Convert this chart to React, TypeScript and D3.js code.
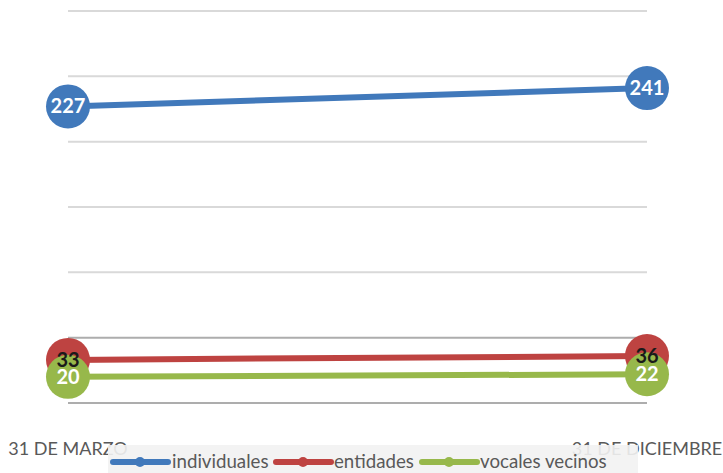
import React from "react";
import * as d3 from "d3";

const categories = ["31 DE MARZO", "31 DE DICIEMBRE"];
const seriesNames = ["individuales", "entidades", "vocales vecinos"];
const individuales = [227, 241];
const entidades = [33, 36];
const vocales = [20, 22];
const yTicks = [0, 50, 100, 150, 200, 250, 300];

const colors = ["#4179bb", "#be4341", "#97b84b"];
const labelColors = ["#ffffff", "#1a1a1a", "#ffffff"];

export default function App() {
  const W = 723, H = 473;
  const x = d3.scalePoint<string>().domain(categories).range([68, 647]);
  const y = d3.scaleLinear().domain([0, 300]).range([403, 11]);
  const series = [individuales, entidades, vocales];
  const line = d3.line<number>().x((_, i) => x(categories[i])!).y((d) => y(d));
  const font = "Lato, 'Open Sans', sans-serif";
  const legendX = [113, 276, 422];
  const legendText = [172, 334, 480];
  return (
    <svg width={W} height={H} style={{ position: "absolute", left: 0, top: 0 }}>
      <rect width={W} height={H} fill="#fff" />
      {yTicks.map((t) => (
        <line key={t} x1={68} x2={647} y1={y(t)} y2={y(t)} stroke={t <= 50 ? "#adadad" : "#d9d9d9"} strokeWidth={2} />
      ))}
      {series.map((s, si) => (
        <path key={si} d={line(s)!} fill="none" stroke={colors[si]} strokeWidth={6} />
      ))}
      {series.map((s, si) =>
        s.map((v, i) => (
          <circle key={si + "-" + i} cx={x(categories[i])} cy={y(v)} r={22} fill={colors[si]} />
        ))
      )}
      {series.map((s, si) =>
        s.map((v, i) => (
          <text key={"t" + si + "-" + i} x={x(categories[i])} y={y(v) + 7} textAnchor="middle" fontFamily={font} fontWeight="bold" fontSize={20} fill={labelColors[si]}>
            {v}
          </text>
        ))
      )}
      {categories.map((c) => (
        <text key={c} x={x(c)} y={455} textAnchor="middle" fontFamily={font} fontSize={18} fill="#595959">
          {c}
        </text>
      ))}
      <rect x={108} y={445} width={530} height={28} fill="#f2f2f2" opacity={0.9} />
      {seriesNames.map((n, i) => (
        <g key={n}>
          <line x1={legendX[i]} x2={legendX[i] + 55} y1={462} y2={462} stroke={colors[i]} strokeWidth={6} strokeLinecap="round" />
          <circle cx={legendX[i] + 27} cy={462} r={5} fill={colors[i]} />
          <text x={legendText[i]} y={468} fontFamily={font} fontSize={18.7} fill="#595959">
            {n}
          </text>
        </g>
      ))}
    </svg>
  );
}
